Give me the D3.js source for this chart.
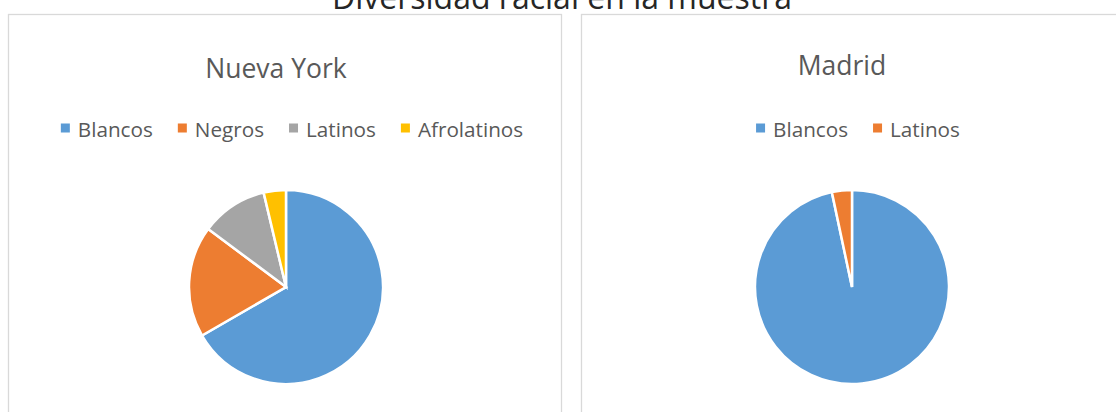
<!DOCTYPE html>
<html>
<head>
<meta charset="utf-8">
<script src="https://cdn.jsdelivr.net/npm/d3@7"></script>
<style>
  body { margin: 0; background: #fff; }
  svg text { font-family: "Open Sans", sans-serif; }
</style>
</head>
<body>
<svg id="chart" width="1116" height="412"></svg>
<script>
// data (counts)
var mainTitle = "Diversidad racial en la muestra";
var nyTitle = "Nueva York";
var nyCategories = ["Blancos", "Negros", "Latinos", "Afrolatinos"];
var nyValues = [18, 5, 3, 1];
var madTitle = "Madrid";
var madCategories = ["Blancos", "Latinos"];
var madValues = [29, 1];
var nyColors = ["#5B9BD5", "#ED7D31", "#A5A5A5", "#FFC000"];
var madColors = ["#5B9BD5", "#ED7D31"];

var svg = d3.select("#chart");

svg.append("text")
  .attr("x", 562).attr("y", 9)
  .attr("text-anchor", "middle")
  .style("font-size", "32px")
  .style("fill", "#262626")
  .text(mainTitle);

// panel frames
var panels = [
  {x: 8.5, y: 14.5, w: 553, h: 420},
  {x: 581.5, y: 14.5, w: 560, h: 420}
];
svg.selectAll("rect.frame")
  .data(panels)
  .enter().append("rect")
  .attr("class", "frame")
  .attr("x", function(d) { return d.x; })
  .attr("y", function(d) { return d.y; })
  .attr("width", function(d) { return d.w; })
  .attr("height", function(d) { return d.h; })
  .style("fill", "none")
  .style("stroke", "#d9d9d9")
  .style("stroke-width", 1.3);

function drawPie(cx, title, titleY, cats, vals, colors) {
    var g = svg.append("g");
    var color = d3.scaleOrdinal().domain(cats).range(colors);

    g.append("text")
      .attr("x", cx - 10).attr("y", titleY)
      .attr("text-anchor", "middle")
      .style("font-size", "26.5px")
      .style("fill", "#595959")
      .text(title);

    // legend
    var leg = g.append("g");
    var xpos = 0;
    cats.forEach(function(c, i) {
        var item = leg.append("g").attr("transform", "translate(" + xpos + ",0)");
        item.append("rect")
          .attr("x", 0).attr("y", 123.5)
          .attr("width", 9).attr("height", 9)
          .style("fill", color(c));
        var t = item.append("text")
          .attr("x", 17).attr("y", 137)
          .style("font-size", "20.7px")
          .style("fill", "#595959")
          .text(c);
        xpos += 17 + t.node().getComputedTextLength() + 25;
    });
    var legW = xpos - 25;
    leg.attr("transform", "translate(" + (cx + 6 - legW / 2) + ",0)");

    var pie = d3.pie().sort(null).value(function(d) { return d; });
    var arc = d3.arc().innerRadius(0).outerRadius(97);
    g.append("g")
      .attr("transform", "translate(" + cx + ",287)")
      .selectAll("path")
      .data(pie(vals))
      .enter().append("path")
      .attr("d", arc)
      .style("fill", function(d, i) { return color(cats[i]); })
      .style("stroke", "#fff")
      .style("stroke-width", 2.5);
}

drawPie(286, nyTitle, 78, nyCategories, nyValues, nyColors);
drawPie(852, madTitle, 75, madCategories, madValues, madColors);
</script>
</body>
</html>
